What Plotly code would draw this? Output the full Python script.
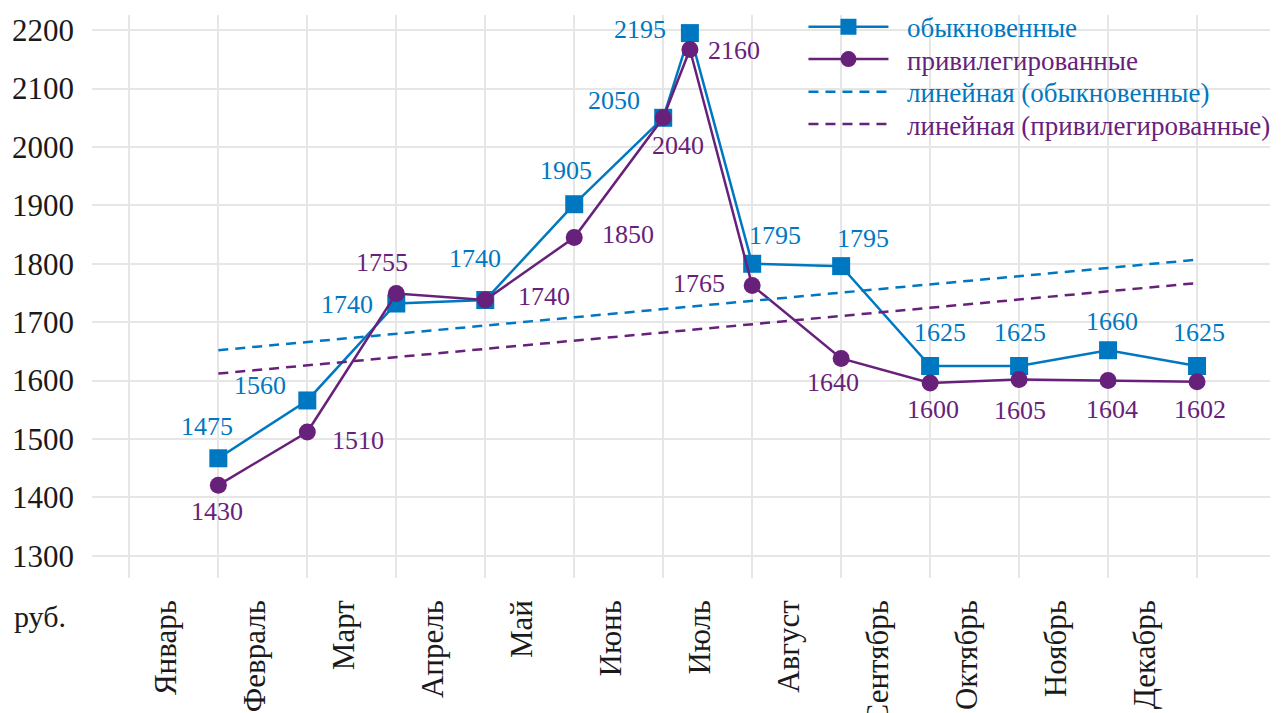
import plotly.graph_objects as go

# ---- data ----
MONTHS = ["Январь", "Февраль", "Март", "Апрель", "Май", "Июнь", "Июль",
          "Август", "Сентябрь", "Октябрь", "Ноябрь", "Декабрь"]
X_POS = [1, 2, 3, 4, 5, 6, 6.3, 7, 8, 9, 10, 11, 12]
ORD_VALUES = [1467, 1566, 1732, 1738, 1902, 2050, 2195, 1800, 1796, 1625, 1625, 1652, 1625]
ORD_LABELS = ["1475", "1560", "1740", "1740", "1905", "2050", "2195", "1795", "1795",
              "1625", "1625", "1660", "1625"]
PREF_VALUES = [1421, 1512, 1749, 1738, 1845, 2050, 2167, 1763, 1638, 1596, 1602, 1600, 1598]
PREF_LABELS = ["1430", "1510", "1755", "1740", "1850", "2040", "2160", "1765", "1640",
               "1600", "1605", "1604", "1602"]
TREND_X = [1, 12]
ORD_TREND = [1652, 1807]
PREF_TREND = [1612, 1767]
Y_TICKS = [1300, 1400, 1500, 1600, 1700, 1800, 1900, 2000, 2100, 2200]

# ---- styles ----
BLUE = "#0078C1"
PURPLE = "#68217A"
SERIF = "Liberation Serif"
ORD_OFFSETS = [(-11, -30), (-47, -13), (-49, 3), (-10, -40), (-8, -32), (-49, -15), (-50, -2),
               (23, -26), (22, -26), (10, -32), (1, -32), (4, -27), (2, -32)]
PREF_OFFSETS = [(-1, 28), (51, 11), (-14, -29), (59, -2), (54, -1), (15, 30), (44, 3),
                (-53, 0), (-8, 26), (3, 29), (1, 33), (4, 31), (3, 30)]
PAD = "&nbsp;&nbsp;"
LEGEND_TOPS = [1.022, 0.9644, 0.9066, 0.8489]

fig = go.Figure()
fig.add_trace(go.Scatter(
    x=X_POS, y=ORD_VALUES, mode="lines+markers", legend="legend",
    name=f"{PAD}<span style='color:{BLUE}'>обыкновенные</span>",
    line=dict(color=BLUE, width=2.5),
    marker=dict(symbol="square", size=18, color=BLUE)))
fig.add_trace(go.Scatter(
    x=X_POS, y=PREF_VALUES, mode="lines+markers", legend="legend2",
    name=f"{PAD}<span style='color:{PURPLE}'>привилегированные</span>",
    line=dict(color=PURPLE, width=2.5),
    marker=dict(symbol="circle", size=17, color=PURPLE)))
fig.add_trace(go.Scatter(
    x=TREND_X, y=ORD_TREND, mode="lines", legend="legend3",
    name=f"{PAD}<span style='color:{BLUE}'>линейная (обыкновенные)</span>",
    line=dict(color=BLUE, width=2.5, dash="10px,7px")))
fig.add_trace(go.Scatter(
    x=TREND_X, y=PREF_TREND, mode="lines", legend="legend4",
    name=f"{PAD}<span style='color:{PURPLE}'>линейная (привилегированные)</span>",
    line=dict(color=PURPLE, width=2.5, dash="10px,7px")))

annotations = []
for xs, ys, labels, offs, col in [(X_POS, ORD_VALUES, ORD_LABELS, ORD_OFFSETS, BLUE),
                                   (X_POS, PREF_VALUES, PREF_LABELS, PREF_OFFSETS, PURPLE)]:
    for xv, yv, lab, (dx, dy) in zip(xs, ys, labels, offs):
        annotations.append(dict(x=xv, y=yv, text=lab, showarrow=False,
                                xshift=dx, yshift=-dy + 2,
                                font=dict(family=SERIF, size=26, color=col)))
annotations.append(dict(xref="paper", yref="paper", x=-0.0679, y=-0.0675,
                        xanchor="left", yanchor="middle", text="руб.", showarrow=False,
                        font=dict(family=SERIF, size=30, color="#1a1a1a")))

legend_common = dict(x=0.620, xref="container", xanchor="left", yanchor="top",
                     bgcolor="rgba(0,0,0,0)", itemwidth=80,
                     font=dict(family=SERIF, size=27))

fig.update_layout(
    width=1283, height=713,
    margin=dict(l=84, r=21, t=7, b=143, autoexpand=False),
    paper_bgcolor="white", plot_bgcolor="white",
    showlegend=True,
    legend=dict(y=LEGEND_TOPS[0], **legend_common),
    legend2=dict(y=LEGEND_TOPS[1], **legend_common),
    legend3=dict(y=LEGEND_TOPS[2], **legend_common),
    legend4=dict(y=LEGEND_TOPS[3], **legend_common),
    annotations=annotations,
    shapes=[dict(type="rect", xref="paper", yref="paper", x0=0.582, x1=1.02,
                 y0=0.751, y1=1.02, fillcolor="white", line=dict(width=0),
                 layer="between")],
    xaxis=dict(range=[-0.42, 12.82], tickmode="array",
               tickvals=[i + 0.41 for i in range(len(MONTHS))], ticktext=MONTHS,
               tickangle=-90, showgrid=False, zeroline=False, showline=False,
               ticklabelstandoff=15, automargin=False,
               tickfont=dict(family=SERIF, size=31, color="#1a1a1a")),
    xaxis2=dict(overlaying="x", range=[-0.42, 12.82], dtick=1, tick0=0,
                showgrid=True, gridcolor="#e6e6e6", gridwidth=1.5,
                showticklabels=False, zeroline=False, showline=False),
    yaxis=dict(range=[1262, 2226], tickvals=Y_TICKS, showgrid=True,
               gridcolor="#e6e6e6", gridwidth=1.5, zeroline=False, showline=False,
               ticklabelstandoff=17, automargin=False,
               tickfont=dict(family=SERIF, size=31, color="#1a1a1a")),
)
# invisible trace to activate the vertical grid axis
fig.add_trace(go.Scatter(x=[0], y=[None], xaxis="x2", showlegend=False, hoverinfo="skip"))
fig.write_html("out.html")
